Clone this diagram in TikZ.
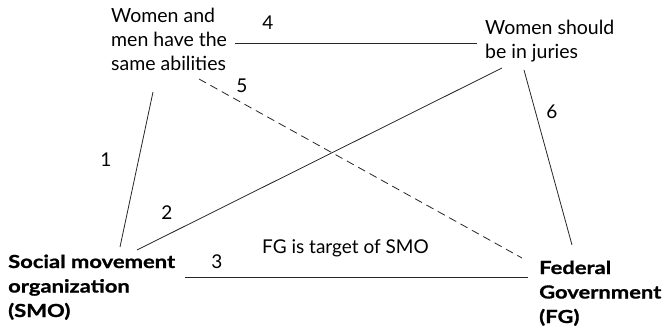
\documentclass[tikz,border=0pt]{standalone}
\usepackage{fontspec}
\setmainfont{Lato}
\newfontfamily\wbold{Lato Bold}[FakeStretch=1.22, FakeBold=1]
\begin{document}
\begin{tikzpicture}[x=1pt,y=-1pt,
  lbl/.style={inner sep=0pt, font=\fontsize{19}{24}\selectfont},
  txt/.style={inner sep=0pt, align=left, anchor=base west, font=\fontsize{19.5}{24}\selectfont},
  btxt/.style={inner sep=0pt, align=left, anchor=base west, font=\wbold\fontsize{18}{24.5}\selectfont},
  link/.style={line width=0.8pt, black!85}]
\useasboundingbox (0,0) rectangle (667,330);
\node[txt] (ab) at (111,70) {Women and\\men have the\\same abilities};
\node[txt, font=\fontsize{19.5}{23.5}\selectfont] (ju) at (485,58) {Women should\\be in juries};
\node[btxt] (smo) at (8,317) {Social movement\\organization\\(SMO)};
\node[btxt] (fg) at (539,323) {Federal\\Government\\(FG)};
\node[lbl, anchor=base west] (tg) at (262,253) {FG is target of SMO};
% endpoints
\coordinate (ab4) at (235,43);
\coordinate (ju4) at (477,43);
\coordinate (ab1) at (153,92);
\coordinate (smo1) at (120,247);
\coordinate (ab5) at (199,79);
\coordinate (fg5) at (522,258);
\coordinate (ju2) at (502,68);
\coordinate (smo2) at (137,250);
\coordinate (ju6) at (524,70);
\coordinate (fg6) at (572,245);
\coordinate (smo3) at (185,277);
\coordinate (fg3) at (528,277);
\draw[link] (ab4) -- (ju4);
\draw[link] (ab1) -- (smo1);
\draw[link, dash pattern=on 8pt off 5pt] (ab5) -- (fg5);
\draw[link] (ju2) -- (smo2);
\draw[link] (ju6) -- (fg6);
\draw[link] (smo3) -- (fg3);
\node[lbl] (n4) at (268,23) {4};
\node[lbl] (n1) at (106,160) {1};
\node[lbl] (n2) at (167,213) {2};
\node[lbl] (n5) at (242,86) {5};
\node[lbl] (n6) at (552,112) {6};
\node[lbl] (n3) at (217,262) {3};
\end{tikzpicture}
\end{document}
